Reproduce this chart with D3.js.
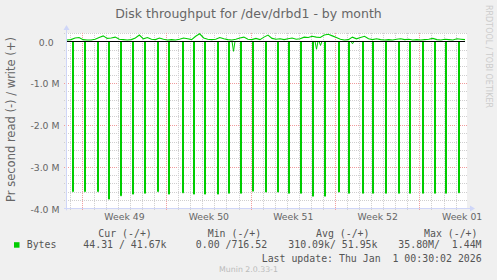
<!DOCTYPE html>
<html>
<head>
<meta charset="utf-8">
<script src="https://cdn.jsdelivr.net/npm/d3@7"></script>
<style>
  html, body { margin: 0; padding: 0; background: #f0f0f0; }
  svg { display: block; }
  text { font-family: "DejaVu Sans", sans-serif; fill: #666; }
  .mono { font-family: "DejaVu Sans Mono", monospace; white-space: pre; font-size: 9.9px; fill: #555; }
</style>
</head>
<body>
<script>
const config = {
    width: 497,
    height: 280,
    left: 67,
    right: 465,
    canvasRight: 467,
    top: 32.95,
    bottom: 208.3
};

// time window: 33 days
const startTime = new Date(Date.UTC(2025, 10, 29, 18, 43));
const endTime = new Date(Date.UTC(2026, 0, 1, 18, 43));

const yTicks = [0, -1, -2, -3, -4];

// write (+), MB/s, one value per 8 hours
const writeVals = [
    0.03, 0.04, 0.08, 0.09, 0.04, 0.03, 0.03, 0.05, 0.09, 0.13,
    0.07, 0.08, 0.10, 0.05, 0.04, 0.03, 0.04, 0.08, 0.15, 0.06,
    0.09, 0.05, 0.04, 0.08, 0.05, 0.03, 0.04, 0.03, 0.05, 0.08,
    0.06, 0.04, 0.12, 0.18, 0.08, 0.05, 0.04, 0.05, 0.09, 0.06,
    0.04, 0.03, 0.05, 0.08, 0.10, 0.05, 0.04, 0.07, 0.04, 0.10,
    0.15, 0.07, 0.05, 0.06, 0.04, 0.06, 0.08, 0.05, 0.06, 0.10,
    0.09, 0.12, 0.10, 0.09, 0.15, 0.17, 0.13, 0.09, 0.05, 0.03,
    0.04, 0.10, 0.06, 0.09, 0.12, 0.06, 0.04, 0.06, 0.04, 0.03,
    0.04, 0.03, 0.05, 0.06, 0.04, 0.05, 0.03, 0.04, 0.03, 0.04,
    0.05, 0.07, 0.04, 0.03, 0.05, 0.04, 0.03, 0.06, 0.05, 0.04
];

// read (-), MB/s: days after start and value
const readDays = [
    0.42, 1.41, 2.49, 3.41, 4.40, 5.40, 6.40, 7.48, 8.39, 9.55,
    10.47, 11.38, 12.46, 13.37, 13.79, 14.37, 15.37, 16.45, 17.44, 18.36,
    19.35, 20.35, 20.62, 21.00, 21.35, 22.43, 23.34, 23.67, 24.42, 25.33,
    26.33, 27.41, 28.32, 29.40, 30.40, 31.31, 32.39
];
const readVals = [
    -3.60, -3.60, -3.60, -3.78, -3.70, -3.66, -3.64, -3.60, -3.66, -3.63,
    -3.66, -3.66, -3.66, -3.64, -0.24, -3.64, -3.59, -3.61, -3.61, -3.64,
    -3.64, -3.71, -0.19, -0.10, -3.71, -3.61, -3.64, -0.06, -3.64, -3.64,
    -3.64, -3.64, -3.64, -3.64, -3.64, -3.64, -3.63
];

const legendHeaders = ["Cur (-/+)", "Min (-/+)", "Avg (-/+)", "Max (-/+)"];
const legendValues = ["44.31 / 41.67k", "0.00 /716.52", "310.09k/ 51.95k", "35.80M/  1.44M"];
const legendName = "Bytes";
const lastUpdate = "Last update: Thu Jan  1 00:30:02 2026";

document.addEventListener("DOMContentLoaded", () => {
    drawChart();
});

function drawChart() {
    const DAY = 86400000;
    const x = d3.scaleUtc().domain([startTime, endTime]).range([config.left, config.right]);
    const y = d3.scaleLinear().domain([-4, 0.2]).range([config.bottom, config.top]);

    const svg = d3.select("body").append("svg")
        .attr("width", config.width)
        .attr("height", config.height);

    svg.append("rect")
        .attr("width", config.width)
        .attr("height", config.height)
        .style("fill", "#f0f0f0");

    svg.append("rect")
        .attr("x", config.left)
        .attr("y", config.top)
        .attr("width", config.canvasRight - config.left)
        .attr("height", config.bottom - config.top)
        .style("fill", "#ffffff");

    // horizontal grid
    const yMinor = d3.range(-20, 2).map(i => i / 5).filter(v => !yTicks.includes(v));
    svg.append("g").selectAll("line")
        .data(yMinor)
        .enter().append("line")
        .attr("x1", config.left - 3).attr("x2", config.canvasRight)
        .attr("y1", d => Math.round(y(d)) + 0.5).attr("y2", d => Math.round(y(d)) + 0.5)
        .style("stroke", "#cfcfcf")
        .style("stroke-dasharray", "1,1");

    svg.append("g").selectAll("line")
        .data(yTicks.filter(v => v !== 0 && v !== -4))
        .enter().append("line")
        .attr("x1", config.left - 3).attr("x2", config.canvasRight)
        .attr("y1", d => Math.round(y(d)) + 0.5).attr("y2", d => Math.round(y(d)) + 0.5)
        .style("stroke", "#f09c9c")
        .style("stroke-dasharray", "1,1");

    // vertical grid: days and weeks
    const days = d3.utcDay.range(startTime, endTime);
    svg.append("g").selectAll("line")
        .data(days)
        .enter().append("line")
        .attr("x1", d => Math.round(x(d)) + 0.5).attr("x2", d => Math.round(x(d)) + 0.5)
        .attr("y1", config.top).attr("y2", config.bottom + 2)
        .style("stroke", d => d.getUTCDay() === 1 ? "#f09c9c" : "#cfcfcf")
        .style("stroke-dasharray", "1,1");

    // read spikes
    const readData = readDays.map((d, i) => ({ t: new Date(+startTime + d * DAY), v: readVals[i] }));
    svg.append("g").selectAll("path")
        .data(readData)
        .enter().append("path")
        .attr("d", d => {
            const x0 = Math.round(x(d.t)) + 0.5;
            const y0 = y(0);
            const y1 = y(d.v);
            return d.v < -1
                ? `M${x0},${y0}V${y1}H${x0 + 1}V${y0}`
                : `M${x0 - 1.5},${y0}L${x0},${y1}L${x0 + 1.5},${y0}`;
        })
        .style("fill", "none")
        .style("stroke", "#00cc00")
        .style("stroke-width", 1);

    // write line
    const writeData = writeVals.map((v, i) => ({ t: new Date(+startTime + i * DAY / 3), v }));
    svg.append("path")
        .datum(writeData)
        .attr("d", d3.line().x(d => x(d.t)).y(d => y(d.v)))
        .style("fill", "none")
        .style("stroke", "#00cc00")
        .style("stroke-width", 1.1);

    // zero rule
    svg.append("line")
        .attr("x1", x(startTime)).attr("x2", x(endTime))
        .attr("y1", Math.round(y(0)) + 0.5).attr("y2", Math.round(y(0)) + 0.5)
        .style("stroke", "#000")
        .style("stroke-width", 1);

    // axes lines and arrows
    const axisColor = "#cfd6f8";
    const ax = config.left - 0.5;
    const ay = Math.round(config.bottom) + 0.5;
    svg.append("line")
        .attr("x1", ax).attr("x2", ax)
        .attr("y1", config.bottom + 2).attr("y2", config.top - 4)
        .style("stroke", axisColor);
    svg.append("path")
        .attr("d", `M${ax - 3},${config.top - 3}L${ax},${config.top - 8}L${ax + 3},${config.top - 3}Z`)
        .style("fill", axisColor);
    svg.append("line")
        .attr("x1", config.left - 3).attr("x2", config.canvasRight + 4)
        .attr("y1", ay).attr("y2", ay)
        .style("stroke", axisColor);
    svg.append("path")
        .attr("d", `M${config.canvasRight + 3},${ay - 3}L${config.canvasRight + 8},${ay}L${config.canvasRight + 3},${ay + 3}Z`)
        .style("fill", axisColor);

    // y axis labels
    const yAxis = svg.append("g")
        .attr("transform", `translate(${config.left - 1},0)`)
        .call(d3.axisLeft(y)
            .tickValues(yTicks)
            .tickSize(0)
            .tickPadding(6.5)
            .tickFormat(d => d === 0 ? "0.0  " : d.toFixed(1) + " M"));
    yAxis.select(".domain").remove();
    yAxis.selectAll("text")
        .attr("dy", "0.42em")
        .style("white-space", "pre")
        .style("font-family", "DejaVu Sans")
        .style("font-size", "9.3px")
        .style("fill", "#666");

    // x axis labels: week middles
    const weekMids = d3.utcMonday.range(startTime, endTime).map(d => new Date(+d + 3.5 * DAY));
    const xAxis = svg.append("g")
        .attr("transform", `translate(0,${config.bottom})`)
        .call(d3.axisBottom(x)
            .tickValues(weekMids)
            .tickSize(0)
            .tickPadding(5.1)
            .tickFormat(d3.utcFormat("Week %V")));
    xAxis.select(".domain").remove();
    xAxis.selectAll("text")
        .style("font-family", "DejaVu Sans")
        .style("font-size", "9.3px")
        .style("fill", "#666");

    // title
    svg.append("text")
        .attr("x", 248.5)
        .attr("y", 17.5)
        .attr("text-anchor", "middle")
        .style("font-size", "12.5px")
        .text("Disk throughput for /dev/drbd1 - by month");

    // vertical label
    svg.append("text")
        .attr("transform", "translate(15,119.5) rotate(-90)")
        .attr("text-anchor", "middle")
        .style("font-size", "11.5px")
        .text("Pr second read (-) / write (+)");

    // rrdtool watermark
    svg.append("text")
        .attr("transform", "translate(485.5,56.5) rotate(90)")
        .attr("text-anchor", "middle")
        .style("font-size", "8px")
        .style("fill", "#cccccc")
        .text("RRDTOOL / TOBI OETIKER");

    // legend
    const headerX = [98.3, 207.7, 316, 424];
    const valueX = [83.3, 195.8, 288.3, 398.3];
    svg.append("g").selectAll("text")
        .data(legendHeaders)
        .enter().append("text")
        .attr("class", "mono")
        .attr("x", (d, i) => headerX[i])
        .attr("y", 237)
        .text(d => d);

    svg.append("rect")
        .attr("x", 14).attr("y", 242.2)
        .attr("width", 5.5).attr("height", 5.5)
        .style("fill", "#00cc00");

    svg.append("text")
        .attr("class", "mono")
        .attr("x", 26.7).attr("y", 248.3)
        .text(legendName);

    svg.append("g").selectAll("text")
        .data(legendValues)
        .enter().append("text")
        .attr("class", "mono")
        .attr("x", (d, i) => valueX[i])
        .attr("y", 248.3)
        .text(d => d);

    svg.append("text")
        .attr("class", "mono")
        .attr("x", 261.7).attr("y", 261.5)
        .text(lastUpdate);

    svg.append("text")
        .attr("x", 248.5).attr("y", 272)
        .attr("text-anchor", "middle")
        .style("font-size", "7.8px")
        .style("fill", "#bbbbbb")
        .text("Munin 2.0.33-1");
}
</script>
</body>
</html>
